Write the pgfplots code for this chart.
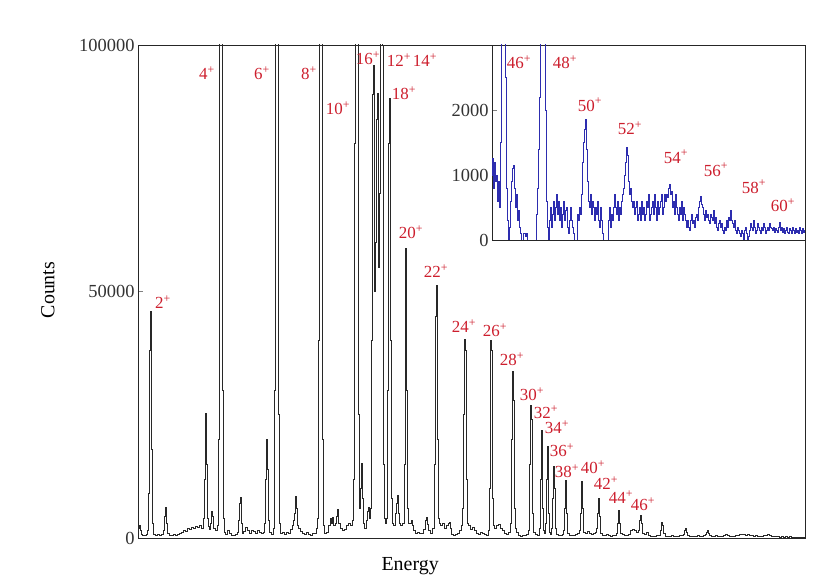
\documentclass[border=0pt]{standalone}
\usepackage{pgfplots}
\pgfplotsset{compat=1.18}
\usepackage{fontspec}
\setmainfont{Liberation Serif}
\definecolor{lbl}{RGB}{205,30,45}
\definecolor{spec}{RGB}{40,40,40}
\definecolor{insetblue}{RGB}{45,45,175}
\newcommand{\lb}[1]{#1\textsuperscript{+}}
\tikzset{lab/.style={text=lbl, font=\fontsize{17}{17}\selectfont, inner sep=0pt}}
\begin{document}
\begin{tikzpicture}
\path[use as bounding box] (0bp,0bp) rectangle (817bp,584bp);
\begin{axis}[
  at={(138bp,46bp)}, anchor=south west, scale only axis,
  width=667bp, height=493bp,
  xmin=138, xmax=805, ymin=0, ymax=100000,
  xtick=\empty, ytick={0,50000,100000}, yticklabels={0,50000,100000}, ytick pos=left,
  scaled y ticks=false,
  tick label style={font=\fontsize{18.5}{18.5}\selectfont, text=black!80},
  axis line style={line width=0.9bp, black!85},
  major tick length=5bp,
  ylabel={Counts}, xlabel={Energy},
  label style={font=\fontsize{20}{20}\selectfont},
  ylabel style={at={(axis description cs:-0.135,0.503)}, anchor=center},
  xlabel style={at={(axis description cs:0.408,-0.057)}, anchor=center},
]
\addplot[const plot mark mid, spec, line width=0.6bp] table {
x y
138 1200
139 2000
140 2600
141 1500
142 800
143 600
145 500
147 700
148 1500
149 9000
150 38000
151 46000
152 18000
153 3000
154 800
156 600
158 700
160 500
162 700
164 1500
165 4500
166 6300
167 3000
168 900
170 600
172 500
174 700
176 600
178 800
180 900
182 1100
184 1600
186 1300
188 2000
190 1800
192 2200
194 2000
196 2400
198 2100
200 2600
202 2000
204 4000
205 12000
206 25300
207 15000
208 4000
209 2400
210 1800
211 3000
212 5500
213 4500
214 2000
216 1500
218 2500
219 20000
220 120000
221 300000
222 150000
223 30000
224 4000
225 1200
226 800
228 1500
230 900
232 600
234 500
236 700
238 1200
239 3500
240 7000
241 8300
242 3000
243 900
244 1300
246 2200
248 1600
250 1000
252 1500
254 1400
256 1000
258 1600
260 1200
262 900
264 1200
265 3000
266 12000
267 20000
268 14000
269 3500
270 1200
272 800
274 2000
275 30000
276 150000
277 300000
278 160000
279 25000
280 3000
281 900
283 1100
285 800
287 1200
289 1000
291 1800
293 2600
294 3500
295 5000
296 8500
297 6000
298 2500
299 2000
301 1400
303 900
305 700
307 1200
309 800
311 600
313 900
315 1000
317 2000
318 4000
319 40000
320 200000
321 300000
322 150000
323 20000
324 2500
325 1000
327 1200
329 2500
331 4000
332 3000
333 4300
334 2500
336 3000
337 4500
338 5900
339 3000
341 2000
343 1500
345 1800
347 2600
349 3000
351 2500
353 3500
354 12000
355 80000
356 250000
357 300000
358 120000
359 25000
360 6000
361 10000
362 15200
363 8000
364 3000
365 2000
367 3500
368 5500
369 6300
370 4000
371 6000
372 40000
373 90000
374 95900
375 50000
376 60000
377 85000
378 90200
379 55000
380 70000
381 200000
382 300000
383 100000
384 15000
385 4000
386 3000
387 4000
388 30000
389 80000
390 89200
391 40000
392 8000
393 3000
394 2500
396 5000
397 7000
398 8700
399 5000
400 3000
401 2500
403 3000
405 15000
406 58800
407 30000
408 6000
409 3000
411 3000
412 3600
413 2500
414 1500
416 1000
418 1200
420 1000
422 900
424 1800
426 3500
427 4300
428 2800
429 1500
431 1000
433 2000
435 15000
436 45000
437 51300
438 20000
439 4000
440 3000
441 2500
443 3000
445 2000
447 2500
449 3000
450 3100
451 2000
452 800
454 500
456 800
458 1000
460 1500
462 2500
463 6000
464 25000
465 40400
466 38000
467 12000
468 3000
469 2500
471 1800
473 2200
475 1500
477 1000
479 800
481 1200
483 1000
485 800
487 600
489 1500
490 10000
491 40200
492 38000
493 8000
494 2500
495 2000
497 2600
499 2800
501 2000
503 1500
505 1000
507 800
509 1200
511 3000
512 20000
513 33900
514 28000
515 6000
516 2000
517 1200
519 600
521 400
523 500
525 600
527 800
529 1500
530 15000
531 27000
532 24000
533 5000
534 1200
536 800
538 600
540 2000
541 12000
542 21900
543 6000
544 1500
545 1000
546 3000
547 12000
548 18500
549 5000
550 1200
551 800
552 2000
553 8000
554 14600
555 10000
556 2000
557 800
559 600
561 500
563 700
564 1500
565 6000
566 11800
567 5000
568 1000
570 500
572 600
574 500
576 700
578 900
580 1500
581 5000
582 11600
583 6000
584 1200
586 1000
588 1400
590 1000
592 800
594 900
596 1200
597 2000
598 5000
599 8100
600 4500
601 1000
603 600
605 500
607 700
609 600
611 400
613 500
615 600
617 1000
618 3000
619 5700
620 3000
621 900
623 700
625 500
627 600
629 800
631 1500
633 1800
635 1500
637 1200
639 1500
640 3500
641 4700
642 3000
643 1000
645 800
647 1200
649 600
651 400
653 300
655 400
657 500
659 600
661 1500
662 3200
663 2500
664 1000
666 400
668 300
670 400
672 500
674 300
676 400
678 300
680 500
682 600
684 800
685 1500
686 2000
687 1200
688 600
690 400
692 300
694 400
696 300
698 500
700 400
702 300
704 500
706 700
707 1200
708 1600
709 1000
710 600
712 400
714 300
716 500
718 400
720 300
722 400
724 600
726 700
728 500
730 400
732 300
734 400
736 500
738 600
740 700
742 800
744 700
746 600
748 700
750 600
752 500
754 400
756 500
758 400
760 300
762 400
764 500
766 600
768 700
770 500
772 400
774 300
776 400
778 300
780 200
782 300
784 200
786 300
788 200
790 250
792 200
794 150
796 200
798 150
800 200
802 150
804 100
805 100
};
\node[lab] at (axis cs:163,47860) {\lb{2}};
\node[lab] at (axis cs:207,94300) {\lb{4}};
\node[lab] at (axis cs:262,94300) {\lb{6}};
\node[lab] at (axis cs:309,94300) {\lb{8}};
\node[lab] at (axis cs:338,87200) {\lb{10}};
\node[lab] at (axis cs:368,97340) {\lb{16}};
\node[lab] at (axis cs:399,96940) {\lb{12}};
\node[lab] at (axis cs:425,96940) {\lb{14}};
\node[lab] at (axis cs:404,90250) {\lb{18}};
\node[lab] at (axis cs:411,62060) {\lb{20}};
\node[lab] at (axis cs:436,54150) {\lb{22}};
\node[lab] at (axis cs:464,43000) {\lb{24}};
\node[lab] at (axis cs:495,42180) {\lb{26}};
\node[lab] at (axis cs:512,36300) {\lb{28}};
\node[lab] at (axis cs:532,29200) {\lb{30}};
\node[lab] at (axis cs:546,25550) {\lb{32}};
\node[lab] at (axis cs:557,22510) {\lb{34}};
\node[lab] at (axis cs:562,17850) {\lb{36}};
\node[lab] at (axis cs:567,13590) {\lb{38}};
\node[lab] at (axis cs:593,14400) {\lb{40}};
\node[lab] at (axis cs:606,11150) {\lb{42}};
\node[lab] at (axis cs:621,8310) {\lb{44}};
\node[lab] at (axis cs:643,6900) {\lb{46}};
\end{axis}
\begin{axis}[
  at={(492bp,344bp)}, anchor=south west, scale only axis,
  width=313bp, height=195bp,
  xmin=492, xmax=805, ymin=0, ymax=3000,
  xtick=\empty, ytick={0,1000,2000}, yticklabels={0,1000,2000}, ytick pos=left,
  scaled y ticks=false,
  tick label style={font=\fontsize{18.5}{18.5}\selectfont, text=black!80},
  axis line style={line width=0.9bp, black!85},
  major tick length=5bp,
  axis background/.style={fill=white},
]
\addplot[const plot mark mid, insetblue, line width=0.6bp] table {
x y
492 1000
493 1260
494 800
495 1200
496 900
497 1000
498 600
499 900
500 500
501 1500
502 3500
503 8000
504 12000
505 6000
506 2500
507 800
508 300
509 0
510 200
511 600
512 900
513 1100
514 1150
515 800
516 500
517 700
518 300
519 450
520 200
521 100
522 0
524 100
526 50
527 100
528 0
536 0
537 400
538 800
539 1400
540 2200
541 3500
542 6000
543 10000
544 12000
545 5000
546 2000
547 600
548 200
549 0
550 300
551 500
552 200
553 400
554 600
555 300
556 500
557 700
558 400
559 600
560 300
561 500
562 200
563 400
564 600
565 300
566 450
567 500
568 200
569 100
570 300
571 500
572 300
573 200
574 100
575 0
577 0
578 400
579 300
580 500
581 400
582 700
583 1200
584 1500
585 1700
586 1860
587 1400
588 900
589 600
590 500
591 700
592 400
593 600
594 500
595 300
596 500
597 400
598 600
599 300
600 200
601 500
602 300
603 100
604 0
608 0
609 300
610 500
611 200
612 400
613 300
614 500
615 700
616 500
617 400
618 600
619 300
620 500
621 400
622 600
623 700
624 800
625 1000
626 1200
627 1430
628 1300
629 900
630 700
631 800
632 600
633 500
634 600
635 400
636 500
637 600
638 300
639 400
640 500
641 300
642 600
643 400
644 500
645 300
646 400
647 600
648 500
649 700
650 300
651 400
652 500
653 600
654 400
655 700
656 500
657 300
658 600
659 400
660 500
661 600
662 700
663 400
664 500
665 700
666 600
667 700
668 650
669 800
670 860
671 700
672 750
673 500
674 600
675 400
676 700
677 500
678 400
679 300
680 500
681 400
682 600
683 300
684 500
685 400
686 300
687 200
688 300
689 200
690 150
691 300
692 400
693 250
694 300
695 200
696 350
697 400
698 300
699 500
700 600
701 670
702 550
703 500
704 400
705 300
706 450
707 350
708 400
709 300
710 250
711 400
712 350
713 300
714 450
715 250
716 350
717 200
718 150
719 250
720 300
721 200
722 250
723 150
724 100
725 200
726 150
727 300
728 200
729 350
730 300
731 460
732 300
733 250
734 200
735 300
736 150
737 100
738 200
739 150
740 100
741 50
742 150
743 100
744 0
745 150
746 200
747 100
748 0
749 50
750 150
751 250
752 200
753 150
754 300
755 200
756 100
757 150
758 250
759 200
760 150
761 100
762 200
763 150
764 250
765 200
766 100
767 150
768 200
769 150
770 250
771 200
772 180
773 150
774 200
775 120
776 180
777 150
778 120
779 200
780 270
781 150
782 200
783 120
784 180
785 100
786 150
787 200
788 120
789 100
790 180
791 150
792 100
793 200
794 150
795 100
796 180
797 120
798 150
799 100
800 200
801 150
802 100
803 180
804 120
805 150
};
\node[lab] at (axis cs:519,2730) {\lb{46}};
\node[lab] at (axis cs:565,2730) {\lb{48}};
\node[lab] at (axis cs:590,2080) {\lb{50}};
\node[lab] at (axis cs:630,1720) {\lb{52}};
\node[lab] at (axis cs:676,1280) {\lb{54}};
\node[lab] at (axis cs:716,1080) {\lb{56}};
\node[lab] at (axis cs:754,820) {\lb{58}};
\node[lab] at (axis cs:783,540) {\lb{60}};
\end{axis}
\end{tikzpicture}
\end{document}
